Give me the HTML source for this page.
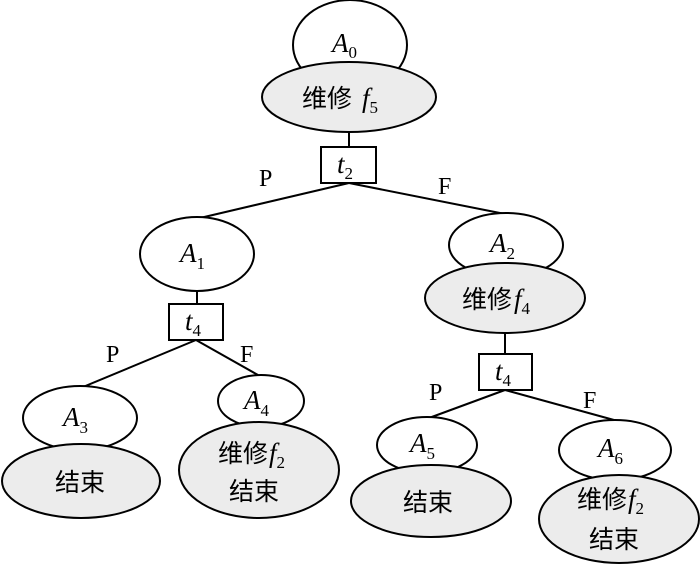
<!DOCTYPE html>
<html><head><meta charset="utf-8"><style>
html,body{margin:0;padding:0;background:#fff;}
svg{display:block;}
text{font-family:"Liberation Serif","Noto Serif CJK SC","Noto Sans CJK SC",serif;fill:#000;}
.w{fill:#fff;stroke:#000;stroke-width:2;}
.g{fill:#ececec;stroke:#000;stroke-width:2;}
.l{stroke:#000;stroke-width:2;fill:none;}
.cn{font-family:"Noto Sans CJK SC","WenQuanYi Zen Hei",sans-serif;font-size:25px;}
.it{font-style:italic;font-size:27px;}
.sub{font-size:17px;font-style:normal;}
.pf{font-size:24px;}
</style></head><body>
<svg width="700" height="564" viewBox="0 0 700 564" xmlns="http://www.w3.org/2000/svg">
<!-- lines -->
<line class="l" x1="349" y1="132" x2="349" y2="147"/>
<line class="l" x1="349" y1="183" x2="200" y2="218"/>
<line class="l" x1="349" y1="183" x2="505" y2="214"/>
<line class="l" x1="197" y1="291" x2="197" y2="304"/>
<line class="l" x1="196" y1="340" x2="83" y2="387"/>
<line class="l" x1="196" y1="340" x2="258" y2="375"/>
<line class="l" x1="505" y1="333" x2="505" y2="354"/>
<line class="l" x1="505" y1="390" x2="429" y2="418"/>
<line class="l" x1="505" y1="390" x2="614" y2="420"/>

<!-- A0 -->
<ellipse class="w" cx="350" cy="45" rx="57" ry="45"/>
<ellipse class="g" cx="349" cy="97" rx="87" ry="35"/>
<text x="332" y="52" class="it">A<tspan class="sub" dy="6">0</tspan></text>
<text x="302" y="107" class="cn">维修</text>
<text x="362" y="107" class="it">f<tspan class="sub" dy="6">5</tspan></text>
<rect class="w" x="321" y="147" width="55" height="36"/>
<text x="337" y="173" class="it">t<tspan class="sub" dy="6">2</tspan></text>
<text x="259" y="186" class="pf">P</text>
<text x="438" y="194" class="pf">F</text>

<!-- A1 -->
<ellipse class="w" cx="197" cy="254" rx="57" ry="37"/>
<text x="180" y="262" class="it">A<tspan class="sub" dy="7">1</tspan></text>
<rect class="w" x="169" y="304" width="54" height="36"/>
<text x="185" y="330" class="it">t<tspan class="sub" dy="6">4</tspan></text>
<text x="106" y="362" class="pf">P</text>
<text x="240" y="362" class="pf">F</text>

<!-- A3 -->
<ellipse class="w" cx="80" cy="418" rx="57" ry="32"/>
<ellipse class="g" cx="81" cy="481" rx="79" ry="37"/>
<text x="63" y="426" class="it">A<tspan class="sub" dy="7">3</tspan></text>
<text x="55" y="491" class="cn">结束</text>

<!-- A4 -->
<ellipse class="w" cx="261" cy="401" rx="43" ry="26"/>
<ellipse class="g" cx="259" cy="470" rx="80" ry="48"/>
<text x="244" y="409" class="it">A<tspan class="sub" dy="7">4</tspan></text>
<text x="218" y="462" class="cn">维修</text>
<text x="269" y="462" class="it">f<tspan class="sub" dy="6">2</tspan></text>
<text x="229" y="500" class="cn">结束</text>

<!-- A2 -->
<ellipse class="w" cx="506" cy="245" rx="57" ry="32"/>
<ellipse class="g" cx="505" cy="298" rx="80" ry="35"/>
<text x="490" y="252" class="it">A<tspan class="sub" dy="7">2</tspan></text>
<text x="462" y="308" class="cn">维修</text>
<text x="514" y="308" class="it">f<tspan class="sub" dy="6">4</tspan></text>
<rect class="w" x="479" y="354" width="53" height="36"/>
<text x="495" y="380" class="it">t<tspan class="sub" dy="6">4</tspan></text>
<text x="429" y="400" class="pf">P</text>
<text x="583" y="408" class="pf">F</text>

<!-- A5 -->
<ellipse class="w" cx="427" cy="445" rx="50" ry="28"/>
<ellipse class="g" cx="431" cy="501" rx="80" ry="36"/>
<text x="410" y="452" class="it">A<tspan class="sub" dy="7">5</tspan></text>
<text x="403" y="511" class="cn">结束</text>

<!-- A6 -->
<ellipse class="w" cx="615" cy="450" rx="56" ry="30"/>
<ellipse class="g" cx="619" cy="519" rx="80" ry="44"/>
<text x="598" y="457" class="it">A<tspan class="sub" dy="7">6</tspan></text>
<text x="577" y="508" class="cn">维修</text>
<text x="628" y="508" class="it">f<tspan class="sub" dy="6">2</tspan></text>
<text x="589" y="548" class="cn">结束</text>
</svg>
</body></html>
